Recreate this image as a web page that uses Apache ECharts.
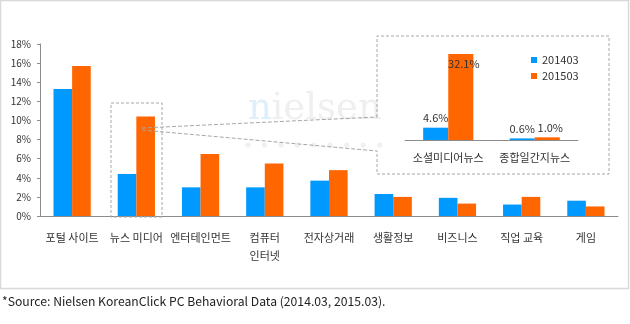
<!DOCTYPE html>
<html>
<head>
<meta charset="utf-8">
<script src="https://cdn.jsdelivr.net/npm/echarts@6/dist/echarts.min.js"></script>
<style>
html,body{margin:0;padding:0;background:#fff;}
#c{width:630px;height:324px;}
</style>
</head>
<body>
<div id="c"></div>
<script>
// ---- data ----
var categories = ['포털 사이트','뉴스 미디어','엔터테인먼트','컴퓨터\n인터넷','전자상거래','생활정보','비즈니스','직업 교육','게임'];
var seriesNames = ['201403','201503'];
var values2014 = [13.3, 4.4, 3.0, 3.0, 3.7, 2.3, 1.9, 1.2, 1.6];
var values2015 = [15.7, 10.4, 6.5, 5.5, 4.8, 2.0, 1.3, 2.0, 1.0];
var yTicks = {min: 0, max: 18, interval: 2};
var insetCategories = ['소셜미디어뉴스','종합일간지뉴스'];
var inset2014 = [4.6, 0.6];
var inset2015 = [32.1, 1.0];
var sourceText = '*Source: Nielsen KoreanClick PC Behavioral Data (2014.03, 2015.03).';

var FONT = '"Noto Sans CJK KR", "Noto Sans", sans-serif';
var BLUE = '#0099FF', ORANGE = '#FF6600';
var TXT = '#333333', AX = '#8c8c8c', DASH = '#a6a6a6';

var chart = echarts.init(document.getElementById('c'), null, {renderer: 'canvas'});

function insetData(arr, posFn) {
  return arr.map(function (v, i) {
    return {value: v, label: {show: true, position: posFn(v, i), formatter: v.toFixed(1) + '%'}};
  });
}

// watermark dots
var dots = [];
for (var i = 0; i < 9; i++) {
  dots.push({type: 'circle', z: -10, shape: {cx: 248 + i * 16.45, cy: 145, r: 2.6}, style: {fill: '#f0f0f0'}});
}

var option = {
  animation: false,
  backgroundColor: '#fff',
  textStyle: {fontFamily: FONT},
  grid: [
    {left: 40, right: 12, top: 44, bottom: 108},
    {left: 405, right: 52, top: 54, bottom: 184}
  ],
  legend: {
    data: seriesNames,
    orient: 'vertical',
    left: 526, top: 48,
    itemWidth: 6, itemHeight: 6, itemGap: 2,
    icon: 'rect',
    textStyle: {fontSize: 11, color: TXT, fontFamily: FONT, lineHeight: 14, padding: [0, 0, 0, 0]}
  },
  xAxis: [
    {
      type: 'category', gridIndex: 0, data: categories,
      axisLine: {lineStyle: {color: AX}},
      axisTick: {length: 4, lineStyle: {color: AX}},
      axisLabel: {color: TXT, fontSize: 11, fontFamily: FONT, margin: 13, lineHeight: 18, interval: 0}
    },
    {
      type: 'category', gridIndex: 1, data: insetCategories,
      axisLine: {lineStyle: {color: AX}},
      axisTick: {length: 3, lineStyle: {color: AX}},
      axisLabel: {color: TXT, fontSize: 11, fontFamily: FONT, margin: 12, interval: 0}
    }
  ],
  yAxis: [
    {
      type: 'value', gridIndex: 0, min: yTicks.min, max: yTicks.max, interval: yTicks.interval,
      axisLine: {show: true, lineStyle: {color: AX}},
      axisTick: {show: true, length: 3, lineStyle: {color: AX}},
      splitLine: {show: false},
      axisLabel: {formatter: '{value}%', color: TXT, fontSize: 10, fontFamily: FONT, margin: 9}
    },
    {
      type: 'value', gridIndex: 1, min: 0, max: 32.1,
      show: false, splitLine: {show: false}
    }
  ],
  series: [
    {name: seriesNames[0], type: 'bar', xAxisIndex: 0, yAxisIndex: 0, data: values2014,
     itemStyle: {color: BLUE}, barGap: 0, barCategoryGap: '42%'},
    {name: seriesNames[1], type: 'bar', xAxisIndex: 0, yAxisIndex: 0, data: values2015,
     itemStyle: {color: ORANGE}, barGap: 0, barCategoryGap: '42%'},
    {name: seriesNames[0], type: 'bar', xAxisIndex: 1, yAxisIndex: 1,
     data: insetData(inset2014, function () { return 'top'; }),
     label: {color: TXT, fontSize: 11, fontFamily: FONT, distance: 4},
     itemStyle: {color: BLUE}, barGap: 0, barCategoryGap: '42%'},
    {name: seriesNames[1], type: 'bar', xAxisIndex: 1, yAxisIndex: 1,
     data: insetData(inset2015, function (v) { return v > 10 ? 'insideTop' : 'top'; }),
     label: {color: TXT, fontSize: 11, fontFamily: FONT, distance: 4, offset: [3, 0]},
     itemStyle: {color: ORANGE}, barGap: 0, barCategoryGap: '42%'}
  ],
  graphic: [
    // outer frame
    {type: 'rect', z: -20, shape: {x: 0.5, y: 0.5, width: 628, height: 288},
     style: {fill: null, stroke: '#d9d9d9', lineWidth: 1.5}},
    // watermark
    {type: 'text', z: -10, left: 248, top: 91,
     style: {text: 'n', font: '37px "DejaVu Serif", serif', fill: '#deeff9'}},
    {type: 'text', z: -10, left: 271.5, top: 91,
     style: {text: 'ielsen', font: '37px "DejaVu Serif", serif', fill: '#efefef'}}
  ].concat(dots).concat([
    // dashed rect around news media bars
    {type: 'rect', z: 50, shape: {x: 111, y: 103, width: 51, height: 114},
     style: {fill: null, stroke: DASH, lineWidth: 1, lineDash: [3, 2]}},
    // callout lines
    {type: 'line', z: 60, shape: {x1: 142, y1: 128, x2: 377, y2: 117},
     style: {stroke: DASH, lineWidth: 1, lineDash: [4, 2]}},
    {type: 'line', z: 60, shape: {x1: 142, y1: 130, x2: 377, y2: 151},
     style: {stroke: DASH, lineWidth: 1, lineDash: [4, 2]}},
    // inset box
    {type: 'polyline', z: 50, shape: {points: [[377, 117], [377, 36], [609, 36], [609, 174], [377, 174], [377, 151]]},
     style: {fill: null, stroke: DASH, lineWidth: 1, lineDash: [3, 2]}},
    // source
    {type: 'text', left: 2, top: 295,
     style: {text: sourceText, font: '12.2px "Noto Sans CJK KR", sans-serif', fill: '#222'}}
  ])
};
chart.setOption(option);
</script>
</body>
</html>
